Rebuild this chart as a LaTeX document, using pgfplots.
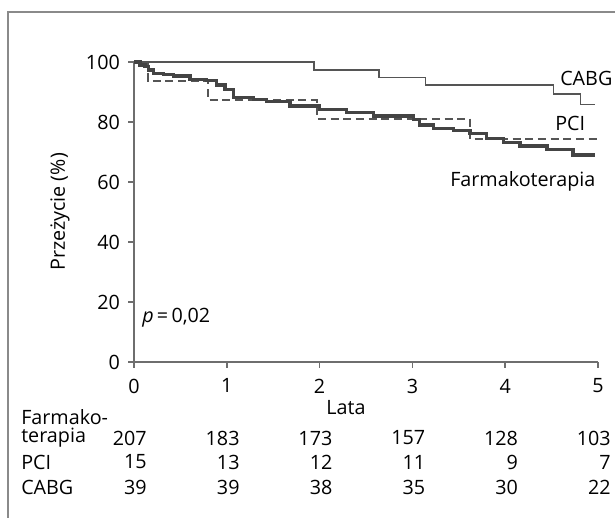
\documentclass[border=0pt]{standalone}
\usepackage{pgfplots}
\pgfplotsset{compat=1.18}
\usepackage{fontspec}
\setmainfont{Open Sans}
\definecolor{axisgray}{HTML}{6E6E6E}
\definecolor{linegray}{HTML}{555555}
\definecolor{darkline}{HTML}{444444}
\definecolor{framegray}{HTML}{8A8A8A}
\begin{document}
\fontsize{14.8pt}{17pt}\selectfont
\begin{tikzpicture}[x=0.75pt,y=0.75pt]
\useasboundingbox (0,0) rectangle (615,518);
\draw[framegray, line width=1.1pt] (8,0) -- (8,506) -- (615,506);
\begin{axis}[
  at={(100.5pt,117pt)}, anchor=south west,
  scale only axis, width=348pt, height=225pt,
  xmin=0, xmax=5, ymin=0, ymax=100,
  axis x line=bottom, axis y line=left,
  axis line style={-, line width=1.2pt, draw=axisgray},
  xtick={0,1,2,3,4,5}, ytick={0,20,40,60,80,100},
  xtick align=outside, ytick align=outside,
  major tick length=4.5pt,
  tick style={line width=1.2pt, color=axisgray},
  /pgf/number format/assume math mode=true,
  ticklabel style={font=\fontsize{14.8pt}{17pt}\selectfont, text=black},
  xticklabel style={yshift=-3pt},
  yticklabel style={xshift=-1pt},
  clip=false,
]
% CABG
\addplot[const plot, color=linegray, line width=1.1pt] coordinates {
(0,100) (1.94,97.4) (2.64,94.8) (3.14,92.3) (4.52,89.3) (4.81,85.8) (4.97,85.8)};
% PCI
\addplot[const plot, color=linegray, line width=1.5pt, dash pattern=on 6pt off 3.5pt] coordinates {
(0,100) (0.15,93.6) (0.80,87.2) (1.97,81.1) (3.62,74.2) (5.0,74.2)};
% Farmakoterapia
\addplot[const plot, color=darkline, line width=2.4pt] coordinates {
(0,100) (0.065,99.0) (0.118,98.4) (0.154,97.3) (0.208,96.2) (0.316,95.7) (0.424,95.3)
(0.603,94.2) (0.783,93.8) (0.89,92.3) (0.98,90.7) (1.07,88.2) (1.29,87.6) (1.43,86.8)
(1.68,85.3) (2.0,84.2) (2.29,83.1) (2.58,82.0) (3.01,80.7) (3.08,79.0) (3.23,77.9)
(3.44,77.1) (3.62,76.2) (3.80,74.6) (3.98,73.1) (4.16,72.0) (4.45,70.7) (4.73,69.0) (4.97,69.0)};
\end{axis}
% curve labels
\node[anchor=west, inner sep=0pt] at (560,440) {CABG};
\node[anchor=west, inner sep=0pt] at (555,395) {PCI};
\node[anchor=west, inner sep=0pt] at (450,337) {Farmakoterapia};
\node[anchor=west, inner sep=0pt] at (142,200) {\textit{p}\,=\,0,02};
% y label
\node[rotate=90, inner sep=0pt] at (60,306) {Przeżycie (\%)};
% x label
\node[inner sep=0pt] at (346,110) {Lata};
% risk table
\node[anchor=west, inner sep=0pt] at (21,101) {Farmako-};
\node[anchor=west, inner sep=0pt] at (21,80) {terapia};
\node[anchor=west, inner sep=0pt] at (21,56) {PCI};
\node[anchor=west, inner sep=0pt] at (21,31) {CABG};
\foreach \v [count=\i from 0] in {207,183,173,157,128,103}
  \node[anchor=east, inner sep=0pt] at (147+92.8*\i,80) {\v};
\foreach \v [count=\i from 0] in {15,13,12,11,9,7}
  \node[anchor=east, inner sep=0pt] at (147+92.8*\i,56) {\v};
\foreach \v [count=\i from 0] in {39,39,38,35,30,22}
  \node[anchor=east, inner sep=0pt] at (147+92.8*\i,31) {\v};
\end{tikzpicture}
\end{document}
